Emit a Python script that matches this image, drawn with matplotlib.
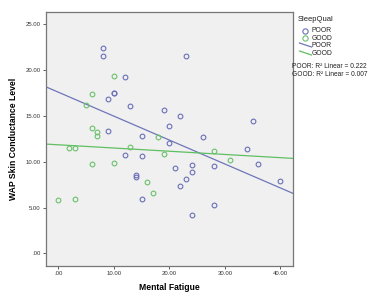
import numpy as np
import matplotlib
matplotlib.use("Agg")
import matplotlib.pyplot as plt
from matplotlib.lines import Line2D

plt.rcParams['font.family'] = ['Liberation Sans', 'DejaVu Sans']

poor_x = [8, 8, 23, 12, 10, 10, 9, 13, 19, 22, 35, 20, 9, 15, 26, 20, 34, 12, 15, 36,
          24, 28, 21, 24, 14, 14, 23, 40, 22, 15, 28, 24]
poor_y = [22.4, 21.5, 21.5, 19.2, 17.5, 17.5, 16.8, 16.1, 15.7, 15.0, 14.4, 13.9, 13.35,
          12.8, 12.7, 12.0, 11.4, 10.7, 10.6, 9.7, 9.6, 9.5, 9.35, 8.9, 8.5, 8.3, 8.1,
          7.9, 7.4, 5.9, 5.25, 4.15]
good_x = [10, 6, 5, 6, 7, 7, 18, 13, 2, 3, 19, 28, 31, 6, 10, 16, 17, 0, 3]
good_y = [19.4, 17.4, 16.2, 13.7, 13.2, 12.8, 12.7, 11.6, 11.45, 11.45, 10.9, 11.15,
          10.2, 9.8, 9.9, 7.75, 6.55, 5.8, 5.95]
groups = ["POOR", "GOOD"]
legend_title = "SleepQual"
r2_text = ["POOR: R\u00b2 Linear = 0.222", "GOOD: R\u00b2 Linear = 0.007"]
xticks = [0, 10, 20, 30, 40]
yticks = [0, 5, 10, 15, 20, 25]

def fmt(v):
    s = "%.2f" % v
    return s[1:] if s.startswith("0") else s

blue_m = "#6a6fb6"
green_m = "#6cc06c"
blue_l = "#6f76b8"
green_l = "#5fbf62"

W, H = 375, 301
fig = plt.figure(figsize=(W / 100, H / 100), dpi=100)

def P(x, y):
    return x / W, 1 - y / H

ax = fig.add_axes([46 / W, 1 - 265.7 / H, (292.7 - 46) / W, (265.7 - 12) / H])
ax.set_facecolor("#f0f0f0")

xlim = (-2.2, 42.2)
ylim = (-1.35, 26.35)

series = [(poor_x, poor_y, blue_m, blue_l), (good_x, good_y, green_m, green_l)]
for xs, ys, cm, cl in series:
    ax.plot(xs, ys, linestyle="none", marker="o", markersize=3.4, markerfacecolor="none",
            markeredgecolor=cm, markeredgewidth=0.8, zorder=3)
    b, a = np.polyfit(xs, ys, 1)
    lx = np.array(xlim)
    ax.plot(lx, a + b * lx, color=cl, linewidth=0.9, zorder=2)

ax.set_xlim(*xlim)
ax.set_ylim(*ylim)
ax.set_xticks(xticks)
ax.set_yticks(yticks)
ax.set_xticklabels([fmt(v) for v in xticks], fontsize=4.3, color="#333333")
ax.set_yticklabels([fmt(v) for v in yticks], fontsize=4.3, color="#333333")
ax.tick_params(length=2.5, width=0.6, color="#444444", pad=1.5)
for sp in ax.spines.values():
    sp.set_color("#777777")
    sp.set_linewidth(0.9)

ax.set_xlabel("Mental Fatigue", fontsize=6.2, fontweight="bold", labelpad=5)
ax.set_ylabel("WAP Skin Conductance Level", fontsize=6.2, fontweight="bold", labelpad=5)

# manual legend (SPSS style)
fig.text(*P(298, 19.5), legend_title, fontsize=5.5, va="center", ha="left", color="#222222")
mark_y = [30.7, 37.9]
line_y = [45.5, 53.5]
for i, (xs, ys, cm, cl) in enumerate(series):
    fig.add_artist(Line2D([P(305, mark_y[i])[0]], [P(305, mark_y[i])[1]], marker="o",
                          markersize=3.8, markerfacecolor="none", markeredgecolor=cm,
                          markeredgewidth=0.8, linestyle="none", transform=fig.transFigure))
    fig.text(*P(312, mark_y[i] + 0.3), groups[i], fontsize=4.9, va="center", ha="left",
             color="#222222")
    x0, y0 = P(299.5, line_y[i] - 2.5)
    x1, y1 = P(311.5, line_y[i] + 1.5)
    fig.add_artist(Line2D([x0, x1], [y0, y1], color=cl, linewidth=0.9,
                          transform=fig.transFigure))
    fig.text(*P(312, line_y[i]), groups[i], fontsize=4.9, va="center", ha="left",
             color="#222222")

fig.text(*P(292.5, 67), r2_text[0], fontsize=4.8, va="center", ha="left", color="#222222")
fig.text(*P(292.5, 75), r2_text[1], fontsize=4.8, va="center", ha="left", color="#222222")

fig.savefig("out.png", dpi=100)
